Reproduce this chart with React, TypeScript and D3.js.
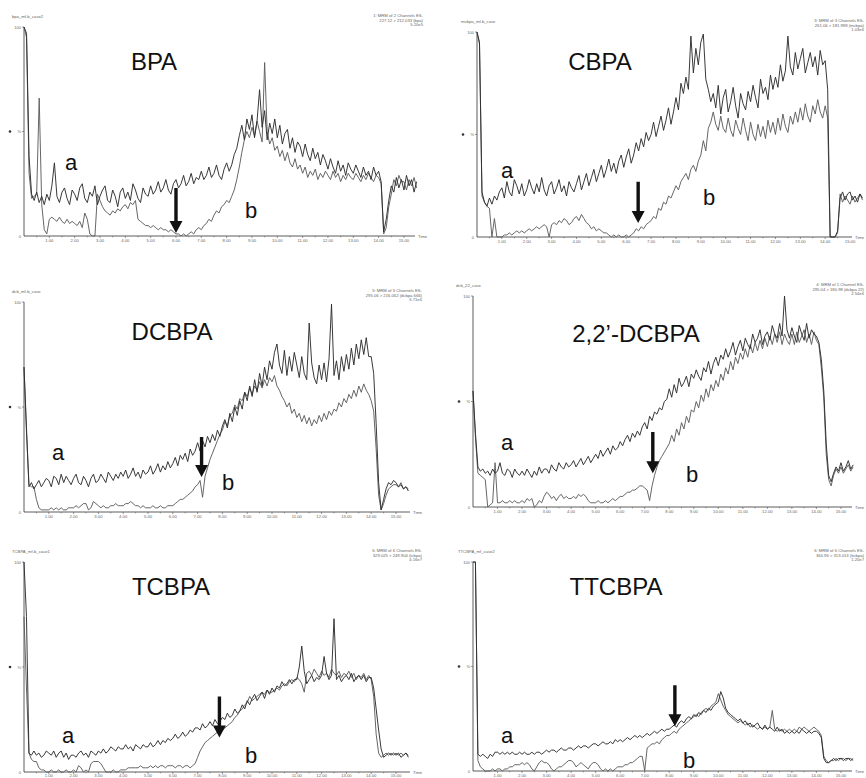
import React from 'react';
import * as d3 from 'd3';

// time step between samples (minutes)
const STEP = 0.1;

// ---- BPA ----
const BPA_A = [
  100, 97, 38, 20, 17, 21, 16, 19, 15, 20,
  17, 24, 35, 19, 16, 21, 23, 18, 15, 22,
  20, 17, 23, 25, 18, 16, 21, 19, 24, 15,
  19, 22, 24, 17, 16, 22, 19, 14, 21, 23,
  18, 21, 17, 25, 22, 18, 16, 23, 20, 19,
  24, 20, 22, 26, 21, 23, 27, 22, 20, 25,
  27, 23, 25, 29, 24, 26, 30, 25, 28, 27,
  31, 27, 29, 33, 28, 30, 34, 29, 27, 32,
  35, 31, 34, 39, 42, 48, 53, 46, 56, 51,
  58, 47, 55, 70, 52, 60, 46, 54, 49, 56,
  47, 53, 44, 49, 51, 42, 47, 40, 45, 43,
  38, 44, 39, 36, 42, 37, 40, 34, 39, 36,
  32, 37, 33, 30, 36, 31, 34, 29, 35, 32,
  30, 34, 31, 28, 33, 29, 31, 27, 33, 29,
  31, 26, 2, 8, 17, 24, 21, 28, 23, 27,
  22, 29, 24, 27, 21, 26,
];
const BPA_B = [
  100, 95, 30, 18, 19, 20, 66, 15, 3, 1,
  8, 9, 8, 7, 9, 7, 6, 8, 6, 7,
  6, 5, 7, 4, 11, 8, 1, 0, 0, 20,
  17, 14, 12, 11, 10, 12, 11, 13, 12, 14,
  15, 13, 16, 15, 17, 8, 7, 6, 5, 5,
  4, 5, 4, 3, 4, 3, 3, 2, 3, 2,
  1, 1, 0, 1, 0, 1, 2, 1, 3, 4,
  3, 5, 6, 8, 7, 10, 12, 11, 14, 15,
  17, 16, 19, 22, 27, 33, 40, 46, 50, 47,
  52, 48, 55, 50, 45, 83, 50, 44, 47, 41,
  43, 38, 41, 36, 40, 35, 33, 37, 32, 34,
  30, 33, 28, 31, 29, 32, 27, 30, 28, 31,
  29, 27, 31, 28, 30, 26, 29, 27, 30, 28,
  27, 30, 28, 26, 29, 27, 30, 28, 26, 29,
  28, 25, 1, 4, 14, 20, 27, 24, 29, 26,
  26, 22, 27, 24, 28, 23,
];

// ---- CBPA ----
const CBPA_A = [
  100, 95, 22, 17, 15, 19, 16, 20, 18, 22,
  24, 19, 27, 22, 20, 28, 25, 21, 26, 20,
  23, 28, 24, 21, 26, 22, 29, 23, 20, 25,
  27, 21, 24, 28, 22, 25, 20, 27, 24, 22,
  26, 30, 23, 27, 31, 25, 29, 33, 27, 31,
  35, 29, 33, 38, 32, 36, 31, 37, 40, 34,
  39, 43, 36, 40, 46, 42, 48, 44, 51, 47,
  50, 56, 49, 54, 59, 52, 57, 63, 55, 61,
  68, 62, 75, 70, 78, 72, 98, 80, 92, 84,
  95, 99, 77, 72, 66, 70, 63, 74, 60, 68,
  72, 61, 66, 73, 64, 58, 70, 65, 62, 71,
  66, 74, 68, 63, 77, 70, 73, 67, 79, 72,
  78, 73, 84, 76, 81, 98, 83, 79, 90, 82,
  87, 92, 80, 85, 90, 83, 88, 79, 91, 84,
  86, 72, 0, 0, 0, 3, 19, 22, 18, 21,
  22, 18, 20, 17, 21, 19,
];
const CBPA_B = [
  100, 94, 20, 17, 15, 14, 0, 9, 0, 0,
  0, 1, 1, 2, 1, 2, 3, 2, 3, 2,
  3, 4, 3, 4, 5, 4, 5, 6, 5, 0,
  6, 7, 6, 8, 7, 9, 8, 6, 7, 9,
  10, 8, 11, 9, 7, 6, 4, 5, 3, 4,
  3, 2, 2, 1, 0, 1, 0, 1, 0, 0,
  1, 0, 1, 2, 4, 3, 5, 4, 6, 7,
  8, 10, 9, 14, 13, 17, 16, 20, 19, 22,
  25, 23, 27, 29, 31, 28, 33, 35, 32, 37,
  40, 47, 42, 53, 56, 61, 55, 52, 59, 53,
  51, 58, 52, 49, 57, 53, 50, 58, 52, 47,
  56, 50, 47, 55, 49, 54, 48, 57, 51, 56,
  50, 58, 52, 60, 54, 51, 59, 55, 61, 56,
  63, 57, 65, 59, 56, 64, 60, 67, 61, 58,
  64, 58, 0, 0, 0, 2, 21, 17, 20, 18,
  16, 20, 17, 19, 21, 18,
];

// ---- DCBPA ----
const DCBPA_A = [
  69, 40, 12, 14, 11, 13, 15, 12, 14, 16,
  15, 12, 17, 16, 13, 18, 14, 17, 15, 13,
  16, 18, 14, 13, 17, 15, 12, 16, 18, 14,
  15, 18, 16, 14, 19, 17, 15, 18, 16, 19,
  17, 20, 16, 18, 21, 17, 19, 16, 20, 18,
  19, 22, 18, 20, 23, 19, 22, 20, 24, 21,
  23, 26, 22, 27, 25, 28, 24, 30, 27, 29,
  33, 29, 34, 31, 36, 33, 37, 34, 39, 36,
  41, 44, 40, 47, 43, 50, 46, 53, 49, 57,
  53, 60, 55, 63, 57, 66, 60, 69, 63, 72,
  68, 76, 80, 70, 66, 77, 65, 74, 67, 76,
  70, 64, 74, 66, 63, 90, 71, 64, 61, 70,
  63, 71, 62, 73, 99, 65, 72, 63, 74, 67,
  75, 68, 78, 70, 80, 73, 82, 75, 83, 74,
  74, 66, 42, 14, 1, 6, 11, 14, 13, 15,
  14, 12, 13, 11, 12, 10,
];
const DCBPA_B = [
  69, 38, 13, 12, 12, 6, 2, 1, 1, 1,
  1, 2, 1, 2, 1, 2, 1, 1, 2, 2,
  2, 3, 2, 3, 4, 4, 1, 2, 5, 4,
  3, 2, 3, 2, 2, 3, 3, 4, 3, 3,
  3, 4, 4, 5, 4, 3, 3, 2, 3, 2,
  2, 2, 3, 2, 2, 3, 2, 2, 3, 3,
  3, 4, 5, 6, 6, 7, 8, 9, 10, 12,
  13, 15, 7, 17, 21, 25, 28, 31, 34, 37,
  39, 43, 41, 46, 47, 51, 49, 54, 53, 57,
  55, 59, 56, 60, 58, 62, 59, 63, 60, 64,
  62, 65, 60, 58, 55, 53, 50, 52, 47, 49,
  45, 47, 43, 46, 42, 45, 41, 44, 42, 46,
  43, 47, 44, 48, 46, 49, 48, 52, 50, 54,
  52, 56, 54, 58, 55, 60, 57, 61, 58, 56,
  53, 48, 30, 8, 1, 4, 8, 11, 12, 13,
  13, 12, 14, 11, 12, 11,
];

// ---- 2,2'-DCBPA ----
const DCBPA22_A = [
  55, 35, 19, 17, 18, 16, 17, 15, 18, 16,
  17, 21, 16, 15, 18, 17, 14, 18, 16, 15,
  17, 15, 18, 16, 14, 17, 15, 19, 16, 18,
  18, 16, 20, 18, 17, 21, 19, 18, 21, 19,
  20, 22, 19, 21, 23, 20, 22, 24, 21, 23,
  25, 23, 27, 24, 26, 28, 25, 29, 27, 28,
  31, 29, 32, 34, 31, 35, 33, 36, 34, 38,
  40, 37, 43, 41, 45, 44, 47, 46, 50, 51,
  56, 52, 58, 54, 61, 57, 59, 62, 57, 63,
  61, 65, 62, 60, 66, 64, 69, 63, 68, 71,
  67, 72, 70, 75, 71, 74, 78, 72, 76, 79,
  74, 80, 77, 75, 82, 78, 80, 84, 77, 81,
  83, 79, 86, 82, 80, 87, 81, 100, 84, 80,
  85, 81, 78, 86, 82, 79, 87, 80, 84, 82,
  81, 78, 70, 55, 30, 15, 12, 16, 19, 17,
  21, 17, 19, 22, 18, 20,
];
const DCBPA22_B = [
  55, 33, 16, 15, 14, 13, 0, 1, 2, 21,
  2, 2, 3, 2, 2, 3, 2, 3, 2, 2,
  3, 2, 4, 3, 4, 0, 1, 3, 2, 5,
  7, 6, 4, 5, 3, 5, 6, 4, 5, 4,
  4, 5, 4, 6, 5, 6, 5, 3, 2, 2,
  2, 3, 2, 2, 3, 2, 3, 4, 3, 4,
  5, 5, 6, 7, 7, 8, 8, 9, 10, 10,
  9, 8, 3, 10, 15, 19, 22, 24, 26, 28,
  30, 34, 31, 37, 34, 40, 37, 43, 40, 46,
  45, 50, 47, 53, 50, 56, 52, 58, 55, 60,
  57, 63, 60, 66, 63, 69, 65, 71, 68, 73,
  70, 75, 71, 77, 73, 78, 74, 79, 75, 80,
  76, 81, 77, 82, 78, 83, 77, 82, 79, 77,
  82, 77, 83, 78, 81, 84, 78, 82, 77, 83,
  79, 77, 66, 52, 25, 13, 10, 15, 18, 16,
  19, 16, 18, 20, 17, 19,
];

// ---- TCBPA ----
const TCBPA_A = [
  100, 74, 9, 8, 10, 8, 9, 7, 8, 10,
  9, 8, 10, 7, 9, 10, 7, 9, 6, 8,
  8, 7, 9, 10, 8, 9, 7, 10, 9, 8,
  10, 9, 11, 9, 10, 12, 11, 10, 12, 11,
  11, 13, 11, 12, 10, 13, 12, 11, 13, 12,
  12, 14, 12, 13, 15, 13, 15, 14, 16, 15,
  16, 18, 16, 17, 19, 17, 18, 20, 19, 21,
  21, 20, 23, 21, 22, 24, 22, 25, 23, 24,
  26, 25, 28, 26, 27, 30, 28, 29, 32, 30,
  34, 32, 35, 37, 34, 36, 38, 35, 39, 37,
  40, 38, 41, 40, 43, 41, 42, 44, 42, 44,
  44, 50, 60, 48, 42, 44, 46, 43, 45, 44,
  46, 55, 47, 44, 46, 73, 44, 46, 43, 45,
  46, 44, 47, 43, 45, 46, 44, 46, 43, 45,
  45, 40, 30, 20, 11, 7, 8, 9, 8, 9,
  8, 9, 7, 8, 9, 7,
];
const TCBPA_B = [
  74, 40, 9, 6, 5, 5, 2, 1, 1, 0,
  0, 1, 0, 0, 1, 0, 0, 1, 0, 0,
  1, 0, 3, 2, 0, 1, 0, 4, 5, 5,
  5, 4, 2, 0, 0, 0, 1, 0, 0, 1,
  1, 1, 2, 2, 2, 2, 2, 3, 2, 2,
  2, 3, 2, 3, 2, 3, 3, 2, 3, 3,
  3, 2, 3, 3, 2, 3, 3, 2, 3, 4,
  7, 10, 12, 14, 15, 16, 17, 18, 19, 19,
  20, 21, 22, 23, 24, 26, 27, 29, 30, 32,
  33, 36, 34, 35, 36, 37, 38, 37, 39, 38,
  38, 39, 40, 39, 41, 42, 41, 43, 44, 43,
  45, 44, 42, 38, 47, 48, 46, 49, 47, 45,
  48, 46, 47, 45, 49, 47, 46, 48, 45, 47,
  46, 48, 45, 47, 44, 46, 45, 47, 44, 46,
  44, 36, 18, 9, 7, 8, 9, 8, 9, 8,
  9, 8, 9, 8, 9, 8,
];

// ---- TTCBPA ----
const TTCBPA_A = [
  100, 100, 8, 7, 8, 7, 6, 8, 7, 9,
  9, 8, 9, 8, 9, 8, 9, 8, 8, 9,
  8, 9, 8, 8, 9, 8, 9, 9, 8, 9,
  10, 9, 10, 10, 9, 10, 11, 10, 10, 11,
  11, 10, 11, 12, 11, 12, 12, 11, 12, 13,
  13, 12, 13, 14, 13, 13, 14, 13, 15, 14,
  15, 14, 15, 16, 15, 16, 17, 16, 17, 16,
  17, 18, 17, 18, 19, 18, 19, 20, 19, 20,
  20, 21, 22, 21, 23, 24, 23, 25, 26, 25,
  27, 26, 28, 27, 29, 28, 30, 29, 31, 32,
  33, 38, 35, 30, 28, 27, 26, 25, 24, 25,
  23, 24, 22, 23, 21, 22, 23, 21, 20, 22,
  20, 21, 20, 19, 21, 19, 20, 18, 19, 18,
  19, 18, 19, 18, 20, 19, 18, 19, 18, 19,
  19, 18, 16, 6, 4, 4, 5, 6, 5, 6,
  6, 5, 6, 6, 5, 6,
];
const TTCBPA_B = [
  100, 100, 5, 2, 1, 0, 0, 0, 1, 0,
  1, 1, 0, 1, 1, 2, 2, 3, 3, 3,
  4, 3, 4, 3, 1, 0, 2, 4, 5, 4,
  4, 3, 1, 0, 1, 2, 2, 3, 4, 5,
  5, 4, 2, 3, 4, 3, 2, 1, 3, 4,
  4, 3, 1, 0, 1, 0, 1, 0, 1, 2,
  2, 2, 3, 3, 4, 4, 5, 6, 7, 7,
  0, 11, 12, 13, 13, 14, 13, 15, 16, 17,
  17, 18, 19, 18, 20, 21, 22, 23, 24, 25,
  26, 27, 26, 28, 29, 30, 29, 31, 32, 33,
  37, 34, 31, 29, 27, 26, 25, 24, 23, 24,
  23, 22, 23, 21, 22, 21, 20, 21, 20, 21,
  20, 21, 29, 20, 19, 20, 19, 20, 19, 20,
  19, 20, 19, 21, 20, 21, 20, 19, 20, 21,
  20, 19, 17, 7, 5, 4, 5, 5, 6, 5,
  6, 6, 5, 6, 6, 5,
];

const TITLES = ['BPA', 'CBPA', 'DCBPA', '2,2\u2019-DCBPA', 'TCBPA', 'TTCBPA'];
const TRACES_A = [BPA_A, CBPA_A, DCBPA_A, DCBPA22_A, TCBPA_A, TTCBPA_A];
const TRACES_B = [BPA_B, CBPA_B, DCBPA_B, DCBPA22_B, TCBPA_B, TTCBPA_B];
// arrow: time (min), tail value (%), tip value (%)
const ARROW_TIME = [6.0, 6.48, 7.16, 7.33, 7.88, 8.23];
const ARROW_TAIL = [23, 27, 35.7, 35.5, 36, 41];
const ARROW_TIP = [1.4, 6.8, 16.7, 16, 16.4, 21.4];
const FILE_NAMES = ['bpa_mf-b_case2', 'mcbpa_mf-b_case', 'dcb_mf-b_case', 'dcb_22_case', 'TCBPA_mf-b_case1', 'TTCBPA_mf_case2'];
const INFO_LINES = [
  ['1: MRM of 2 Channels ES-', '227.12 > 212.033 (bpa)', '5.20e5'],
  ['3: MRM of 3 Channels ES-', '261.06 > 181.998 (mcbpa)', '1.03e6'],
  ['5: MRM of 5 Channels ES-', '295.06 > 216.062 (dcbpa 666)', '6.71e6'],
  ['4: MRM of 1 Channel ES-', '295.04 > 180.98 (dcbpa 22)', '2.54e6'],
  ['6: MRM of 6 Channels ES-', '329.025 > 249.904 (tcbpa)', '4.16e7'],
  ['6: MRM of 6 Channels ES-', '364.96 > 313.013 (ttcbpa)', '1.20e7'],
];
const TICK_MINUTES = [1, 2, 3, 4, 5, 6, 7, 8, 9, 10, 11, 12, 13, 14, 15];

// layout (pixels)
const LAYOUTS = [
  { x0: 24, ppm: 25.33, xEnd: 415, yTop: 27, yBase: 236, titleX: 154, titleY: 70, aX: 65, aY: 170, bX: 245, bY: 218, hdrX: 12, infoX: 423 },
  { x0: 477, ppm: 24.87, xEnd: 852, yTop: 32, yBase: 237, titleX: 600, titleY: 70, aX: 501, aY: 178, bX: 703, bY: 205, hdrX: 461, infoX: 864 },
  { x0: 24, ppm: 24.8, xEnd: 410, yTop: 302, yBase: 512, titleX: 172, titleY: 340, aX: 52, aY: 460, bX: 222, bY: 490, hdrX: 12, infoX: 422 },
  { x0: 473, ppm: 24.53, xEnd: 852, yTop: 296, yBase: 507, titleX: 636, titleY: 342, aX: 501, aY: 450, bX: 686, bY: 482, hdrX: 456, infoX: 864 },
  { x0: 24, ppm: 24.8, xEnd: 410, yTop: 562, yBase: 772, titleX: 171, titleY: 595, aX: 62, aY: 743, bX: 245, bY: 763, hdrX: 12, infoX: 422 },
  { x0: 473, ppm: 24.53, xEnd: 852, yTop: 562, yBase: 771, titleX: 616, titleY: 595, aX: 501, aY: 743, bX: 683, bY: 768, hdrX: 458, infoX: 864 },
];

const FONT = "'Liberation Sans', Arial, Helvetica, sans-serif";

function Panel({ i }: { i: number }) {
  const L = LAYOUTS[i];
  const x = d3.scaleLinear().domain([0, 15]).range([L.x0, L.x0 + 15 * L.ppm]);
  const y = d3.scaleLinear().domain([0, 100]).range([L.yBase, L.yTop]);
  const line = d3
    .line<number>()
    .x((_, k) => x(k * STEP))
    .y((d) => y(d))
    .curve(d3.curveLinear);
  const fmt = d3.format('.2f');
  const ticks: number[] = [];
  for (let m = 0.5; x(m) < L.xEnd - 2; m += 0.5) ticks.push(m);

  const ax = x(ARROW_TIME[i]);
  const yTail = y(ARROW_TAIL[i]);
  const yTip = y(ARROW_TIP[i]);
  const head = 12;
  const hw = 6.5;
  const sw = 1.7;
  const arrowPath = `M${ax - sw},${yTail} L${ax + sw},${yTail} L${ax + sw},${yTip - head} L${ax + hw},${yTip - head} L${ax},${yTip} L${ax - hw},${yTip - head} L${ax - sw},${yTip - head} Z`;
  const labelY = Math.min(L.yBase + 6, 777);

  return (
    <g>
      {/* header */}
      <text x={L.hdrX} y={L.yTop - 9} fontSize={4.2} fill="#666" fontFamily={FONT}>
        {FILE_NAMES[i]}
      </text>
      {INFO_LINES[i].map((s, k) => (
        <text key={k} x={L.infoX} y={L.yTop - 10 + k * 4.6} fontSize={4.2} fill="#666" fontFamily={FONT} textAnchor="end">
          {s}
        </text>
      ))}
      {/* y axis */}
      <line x1={L.x0} x2={L.x0} y1={L.yTop} y2={L.yBase} stroke="#333" strokeWidth={0.8} />
      <line x1={L.x0 - 2} x2={L.x0} y1={y(100)} y2={y(100)} stroke="#555" strokeWidth={0.6} />
      <line x1={L.x0 - 2} x2={L.x0} y1={y(50)} y2={y(50)} stroke="#555" strokeWidth={0.6} />
      <text x={L.x0 - 3} y={y(100) + 1.5} fontSize={4} fill="#666" textAnchor="end" fontFamily={FONT}>100</text>
      <text x={L.x0 - 3} y={y(50) + 1.5} fontSize={4} fill="#666" textAnchor="end" fontFamily={FONT}>%</text>
      <circle cx={L.x0 - 14} cy={y(50)} r={1.3} fill="#333" />
      <text x={L.x0 - 3} y={y(0) + 1.5} fontSize={4} fill="#666" textAnchor="end" fontFamily={FONT}>0</text>
      {/* x axis */}
      <line x1={L.x0} x2={L.xEnd} y1={L.yBase} y2={L.yBase} stroke="#333" strokeWidth={0.8} />
      {ticks.map((m) => (
        <line key={m} x1={x(m)} x2={x(m)} y1={L.yBase} y2={L.yBase + (Number.isInteger(m) ? 2 : 1.3)} stroke="#555" strokeWidth={0.6} />
      ))}
      {TICK_MINUTES.map((m) => (
        <text key={m} x={x(m)} y={labelY} fontSize={4.2} fill="#666" textAnchor="middle" fontFamily={FONT}>
          {fmt(m)}
        </text>
      ))}
      <text x={L.xEnd + 3} y={L.yBase + 1.5} fontSize={4.2} fill="#666" fontFamily={FONT}>Time</text>
      {/* traces */}
      <path d={line(TRACES_B[i]) || ''} fill="none" stroke="#5e5e5e" strokeWidth={0.95} strokeLinejoin="round" />
      <path d={line(TRACES_A[i]) || ''} fill="none" stroke="#2e2e2e" strokeWidth={0.95} strokeLinejoin="round" />
      {/* arrow */}
      <path d={arrowPath} fill="#111" />
      {/* labels */}
      <text x={L.titleX} y={L.titleY} fontSize={24} fill="#111" textAnchor="middle" fontFamily={FONT}>
        {TITLES[i]}
      </text>
      <text x={L.aX} y={L.aY} fontSize={22} fill="#111" fontFamily={FONT}>a</text>
      <text x={L.bX} y={L.bY} fontSize={22} fill="#111" fontFamily={FONT}>b</text>
    </g>
  );
}

export default function App() {
  return (
    <svg
      width={866}
      height={778}
      viewBox="0 0 866 778"
      style={{ position: 'absolute', left: 0, top: 0, background: '#fff' }}
    >
      <rect x={0} y={0} width={866} height={778} fill="#fff" />
      {LAYOUTS.map((_, i) => (
        <Panel key={i} i={i} />
      ))}
    </svg>
  );
}
